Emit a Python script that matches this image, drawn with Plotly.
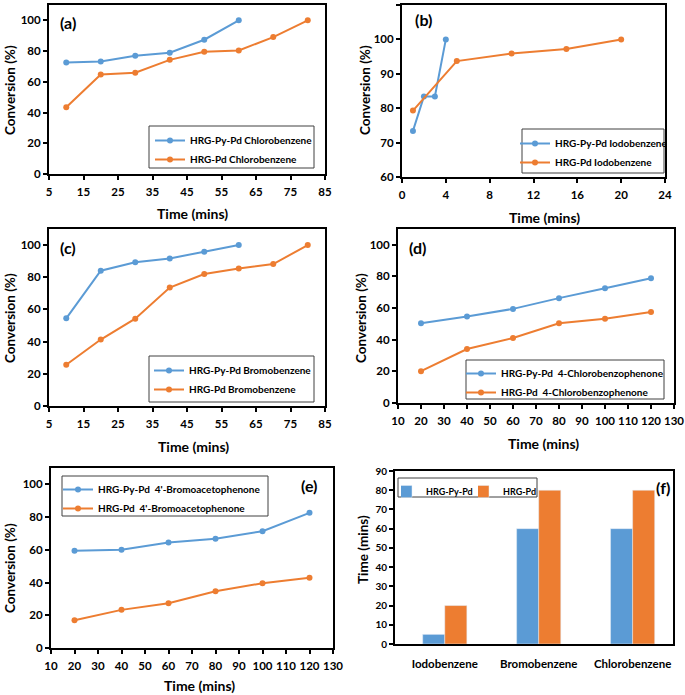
import plotly.graph_objects as go

W, H = 685, 695
BLUE = "#5B9BD5"
ORANGE = "#ED7D31"
FONT = "Lato"
NB = "\u00a0"

# ---------------- data ----------------
a_x_py = [10, 20, 30, 40, 50, 60]
a_y_py = [72.6, 73.3, 77.0, 78.9, 87.4, 100]
a_x_pd = [10, 20, 30, 40, 50, 60, 70, 80]
a_y_pd = [43.5, 64.8, 65.9, 74.3, 79.6, 80.4, 89.1, 100]

b_x_py = [1, 2, 3, 4]
b_y_py = [73.4, 83.4, 83.4, 100]
b_x_pd = [1, 5, 10, 15, 20]
b_y_pd = [79.3, 93.7, 95.9, 97.2, 100]

c_x_py = [10, 20, 30, 40, 50, 60]
c_y_py = [54.5, 84.1, 89.3, 91.7, 95.9, 100]
c_x_pd = [10, 20, 30, 40, 50, 60, 70, 80]
c_y_pd = [25.6, 41.3, 54.3, 73.6, 82.0, 85.5, 88.2, 100]

d_x = [20, 40, 60, 80, 100, 120]
d_y_py = [50.4, 54.7, 59.5, 66.3, 72.5, 78.8]
d_y_pd = [20.1, 34.1, 41.1, 50.4, 53.2, 57.6]

e_x = [20, 40, 60, 80, 100, 120]
e_y_py = [59.4, 60.0, 64.5, 66.7, 71.4, 82.6]
e_y_pd = [17.0, 23.3, 27.4, 34.7, 39.6, 43.0]

f_cats = ["Iodobenzene", "Bromobenzene", "Chlorobenzene"]
f_py = [5, 60, 60]
f_pd = [20, 80, 80]

# ---------------- layout helpers ----------------
def px(x):
    return x / W

def py(y):
    return 1 - y / H

# plot-area boxes in pixels: (left, top, right, bottom)
boxes = {
    1: (49, 5, 325, 174),
    2: (402, 5, 665, 177),
    3: (49, 229, 325, 406),
    4: (398, 229, 674, 403),
    5: (51, 468, 333, 648),
    6: (395, 471, 673, 644),
}

fig = go.Figure()

def line_pair(n, xpy, ypy, xpd, ypd, name_py, name_pd):
    sfx = "" if n == 1 else str(n)
    lg = "legend" if n == 1 else "legend" + str(n)
    for xs, ys, nm, col in [(xpy, ypy, name_py, BLUE), (xpd, ypd, name_pd, ORANGE)]:
        fig.add_trace(go.Scatter(
            x=xs, y=ys, name=nm, mode="lines+markers",
            line=dict(color=col, width=2),
            marker=dict(color=col, size=6),
            xaxis="x" + sfx, yaxis="y" + sfx, legend=lg,
        ))

line_pair(1, a_x_py, a_y_py, a_x_pd, a_y_pd,
          "HRG-Py-Pd Chlorobenzene", "HRG-Pd Chlorobenzene")
line_pair(2, b_x_py, b_y_py, b_x_pd, b_y_pd,
          "HRG-Py-Pd Iodobenzene", "HRG-Pd Iodobenzene")
line_pair(3, c_x_py, c_y_py, c_x_pd, c_y_pd,
          "HRG-Py-Pd Bromobenzene", "HRG-Pd Bromobenzene")
line_pair(4, d_x, d_y_py, d_x, d_y_pd,
          "HRG-Py-Pd" + NB + " 4-Chlorobenzophenone", "HRG-Pd" + NB + " 4-Chlorobenzophenone")
line_pair(5, e_x, e_y_py, e_x, e_y_pd,
          "HRG-Py-Pd" + NB + " 4'-Bromoacetophenone", "HRG-Pd" + NB + " 4'-Bromoacetophenone")

fig.add_trace(go.Bar(x=f_cats, y=f_py, name="HRG-Py-Pd", marker_color=BLUE,
                     xaxis="x6", yaxis="y6", legend="legend6"))
fig.add_trace(go.Bar(x=f_cats, y=f_pd, name="HRG-Pd", marker_color=ORANGE,
                     xaxis="x6", yaxis="y6", legend="legend7"))

tickfont = dict(family=FONT, size=11.5, color="#000000", weight="bold")

axis_specs = {
    1: dict(xr=[5, 85], xd=10, x0=5, yr=[0, 110], yv=[0, 20, 40, 60, 80, 100]),
    2: dict(xr=[0, 24], xd=4, x0=0, yr=[60, 110], yv=[60, 70, 80, 90, 100, 110]),
    3: dict(xr=[5, 85], xd=10, x0=5, yr=[0, 110], yv=[0, 20, 40, 60, 80, 100]),
    4: dict(xr=[10, 130], xd=10, x0=10, yr=[0, 110], yv=[0, 20, 40, 60, 80, 100]),
    5: dict(xr=[10, 130], xd=10, x0=10, yr=[0, 110], yv=[0, 20, 40, 60, 80, 100]),
}

layout = dict(
    width=W, height=H, margin=dict(l=0, r=0, t=0, b=0, autoexpand=False),
    paper_bgcolor="white", plot_bgcolor="white",
    showlegend=True, barmode="group", bargap=0.53, bargroupgap=0,
    font=dict(family=FONT, color="#000000"),
)

for n, (l, t, r, b) in boxes.items():
    sfx = "" if n == 1 else str(n)
    xa = dict(domain=[px(l), px(r)], anchor="y" + sfx, showgrid=False, zeroline=False,
              showline=True, linecolor="black", linewidth=2, mirror=True,
              tickfont=tickfont, fixedrange=True, automargin=False, ticklabelstandoff=2)
    ya = dict(domain=[py(b), py(t)], anchor="x" + sfx, showgrid=False, zeroline=False,
              showline=True, linecolor="black", linewidth=2, mirror=True,
              tickfont=tickfont, fixedrange=True, automargin=False,
              ticks="outside", ticklen=4, tickwidth=1.5, tickcolor="black")
    if n in axis_specs:
        s = axis_specs[n]
        xa.update(range=s["xr"], dtick=s["xd"], tick0=s["x0"], ticks="outside",
                  ticklen=4, tickwidth=1.5, tickcolor="black")
        ya.update(range=s["yr"], tickvals=s["yv"])
    else:
        xa.update(ticks="", ticklabelstandoff=8, range=[-0.53, 2.43])
        ya.update(range=[0, 90], dtick=10,
                  tickfont=dict(family=FONT, size=10, color="#000000", weight="bold"))
    layout["xaxis" + sfx] = xa
    layout["yaxis" + sfx] = ya

# legend entry anchors (px) and the frames drawn around them (px: l, t, r, b)
legfont = dict(family=FONT, size=10, color="#000000", weight="bold")
leg_pos = {
    "legend": (150, 126),
    "legend2": (515, 129),
    "legend3": (149, 356),
    "legend4": (461, 359),
    "legend5": (58, 475),
    "legend6": (401, 477),
    "legend7": (478, 477),
}
leg_frames = [
    (149, 126, 314, 168),
    (522, 129, 664, 173),
    (149, 356, 314, 402),
    (466, 360, 664, 399),
    (62, 476, 268, 516),
    (398, 478, 537, 497),
]
for key, (lx, ly) in leg_pos.items():
    d = dict(x=px(lx), y=py(ly), xanchor="left", yanchor="top",
             bgcolor="rgba(0,0,0,0)", borderwidth=0,
             font=legfont, tracegroupgap=0, itemwidth=30,
             orientation="v")
    if key in ("legend6", "legend7"):
        d.update(indentation=-15,
                 font=dict(family=FONT, size=9, color="#000000", weight="bold"))
    layout[key] = d

shapes = []
for (l, t, r, b) in leg_frames:
    shapes.append(dict(type="rect", xref="paper", yref="paper",
                       x0=px(l), x1=px(r), y0=py(b), y1=py(t), layer="above",
                       fillcolor="white", line=dict(color="#404040", width=1)))
layout["shapes"] = shapes

fig.update_layout(**layout)

ann = []
def txt(x, y, s, size=12, angle=0, xanchor="center"):
    ann.append(dict(x=px(x), y=py(y), xref="paper", yref="paper", text=s,
                    showarrow=False, textangle=angle, xanchor=xanchor, yanchor="middle",
                    font=dict(family=FONT, size=size, color="#000000", weight="bold")))

# panel labels
txt(58, 23, "(a)", 16, xanchor="left")
txt(413, 19, "(b)", 16, xanchor="left")
txt(58, 248, "(c)", 16, xanchor="left")
txt(407, 248, "(d)", 16, xanchor="left")
txt(320, 485, "(e)", 16, xanchor="right")
txt(672, 487, "(f)", 16, xanchor="right")

# axis titles
TS = 14
CS = 13.5
txt(192, 213, "Time (mins)", TS)
txt(544, 217, "Time (mins)", TS)
txt(193, 446, "Time (mins)", TS)
txt(543, 443, "Time (mins)", TS)
txt(199, 685, "Time (mins)", TS)
txt(10, 90, "Conversion (%)", CS, angle=-90)
txt(365, 90, "Conversion (%)", CS, angle=-90)
txt(10, 318, "Conversion (%)", CS, angle=-90)
txt(361, 318, "Conversion (%)", CS, angle=-90)
txt(10, 568, "Conversion (%)", CS, angle=-90)
txt(363, 550, "Time (mins)", CS, angle=-90)

fig.update_layout(annotations=ann)
fig.write_html("out.html",
               config={"displayModeBar": False},
               post_script="document.body.style.margin='0px';document.body.style.overflow='hidden';")
